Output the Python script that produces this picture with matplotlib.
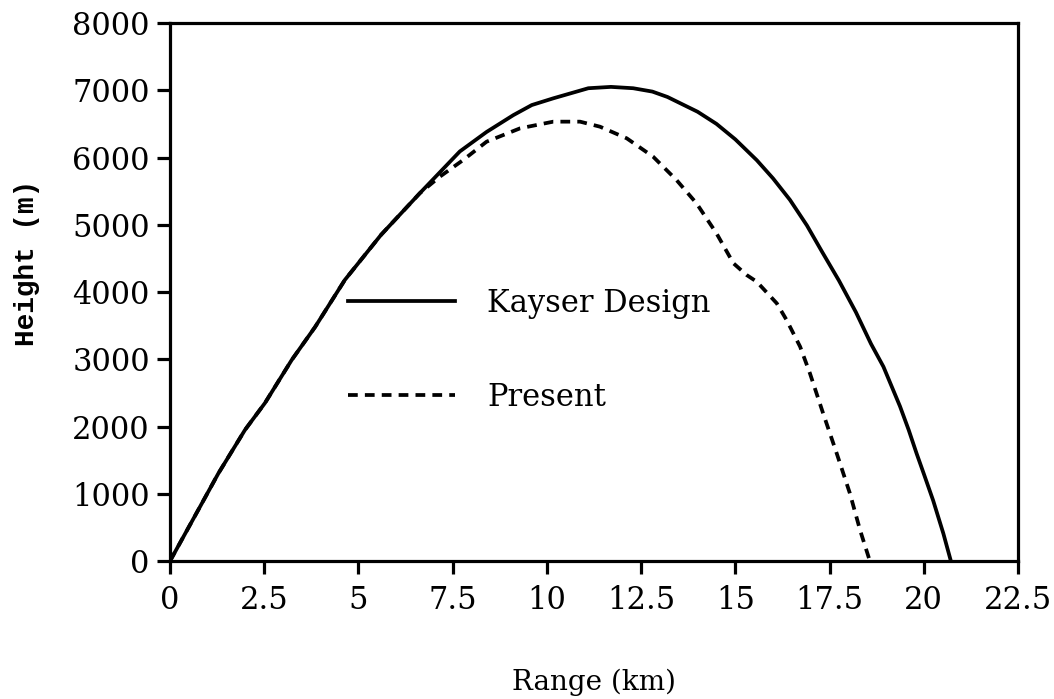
import matplotlib
matplotlib.use('Agg')
import matplotlib.pyplot as plt

# Trajectories (range in km, height in m)
kayser_range = [0, 0.75, 1.28, 1.99, 2.52, 3.23, 3.85, 4.64, 5.6, 6.63, 7.69,
                8.4, 9.11, 9.6, 10.17, 11.1, 11.7, 12.29, 12.8, 13.2, 14.0,
                14.5, 15.0, 15.57, 16.0, 16.45, 16.9, 17.3, 17.75, 18.2,
                18.6, 18.93, 19.37, 19.6, 19.81, 20.0, 20.25, 20.52, 20.72]
kayser_height = [0, 760, 1300, 1950, 2350, 2990, 3480, 4180, 4850, 5470, 6090,
                 6380, 6630, 6780, 6880, 7030, 7050, 7030, 6980, 6900, 6680,
                 6500, 6270, 5960, 5690, 5370, 4990, 4600, 4170, 3700,
                 3230, 2890, 2300, 1950, 1600, 1300, 900, 410, 0]

present_range = [0, 0.75, 1.28, 1.99, 2.52, 3.23, 3.85, 4.64, 5.6, 6.63, 7.16,
                 7.78, 8.40, 9.29, 10.17, 10.88, 11.41, 12.12, 12.82, 13.44,
                 13.97, 14.50, 14.95, 15.30, 15.57, 16.10, 16.36, 16.72, 16.98,
                 17.33, 17.69, 18.04, 18.31, 18.57]
present_height = [0, 760, 1300, 1950, 2350, 2990, 3480, 4180, 4850, 5470, 5715,
                  5963, 6235, 6434, 6533, 6533, 6458, 6285, 6012, 5665,
                  5319, 4873, 4427, 4253, 4153, 3832, 3584, 3187, 2791,
                  2196, 1602, 1007, 461, 0]

x_ticks = [0, 2.5, 5, 7.5, 10, 12.5, 15, 17.5, 20, 22.5]
x_tick_labels = ['0', '2.5', '5', '7.5', '10', '12.5', '15', '17.5', '20', '22.5']
y_ticks = [0, 1000, 2000, 3000, 4000, 5000, 6000, 7000, 8000]

plt.rcParams['font.family'] = ['DejaVu Serif']

fig = plt.figure(figsize=(10.54, 6.99), dpi=100)
ax = fig.add_axes([0.1613, 0.1974, 0.8045, 0.7697])

ax.plot(kayser_range, kayser_height, color='black', lw=2.7,
        label='Kayser Design', solid_joinstyle='round')
ax.plot(present_range, present_height, color='black', lw=2.7,
        linestyle=(0, (2.6, 1.9)), label='Present')

ax.set_xlim(0, 22.5)
ax.set_ylim(0, 8000)
ax.set_xticks(x_ticks)
ax.set_xticklabels(x_tick_labels)
ax.set_yticks(y_ticks)

for s in ax.spines.values():
    s.set_linewidth(2.3)
ax.tick_params(direction='out', length=9.5, width=2.3, labelsize=22)
ax.tick_params(axis='x', pad=8)
ax.tick_params(axis='y', pad=5)

ax.set_xlabel('Range (km)', fontsize=20, labelpad=38)
ax.set_ylabel('Height (m)', fontsize=20, family='Liberation Mono',
              fontweight='bold')
ax.yaxis.set_label_coords(-0.153, 0.554)

ax.legend(loc='upper left', bbox_to_anchor=(0.196, 0.53), frameon=False,
          fontsize=22, handlelength=3.5, handletextpad=1.05, labelspacing=2.05,
          borderaxespad=0)

plt.savefig('out.png', dpi=100)
plt.close()
